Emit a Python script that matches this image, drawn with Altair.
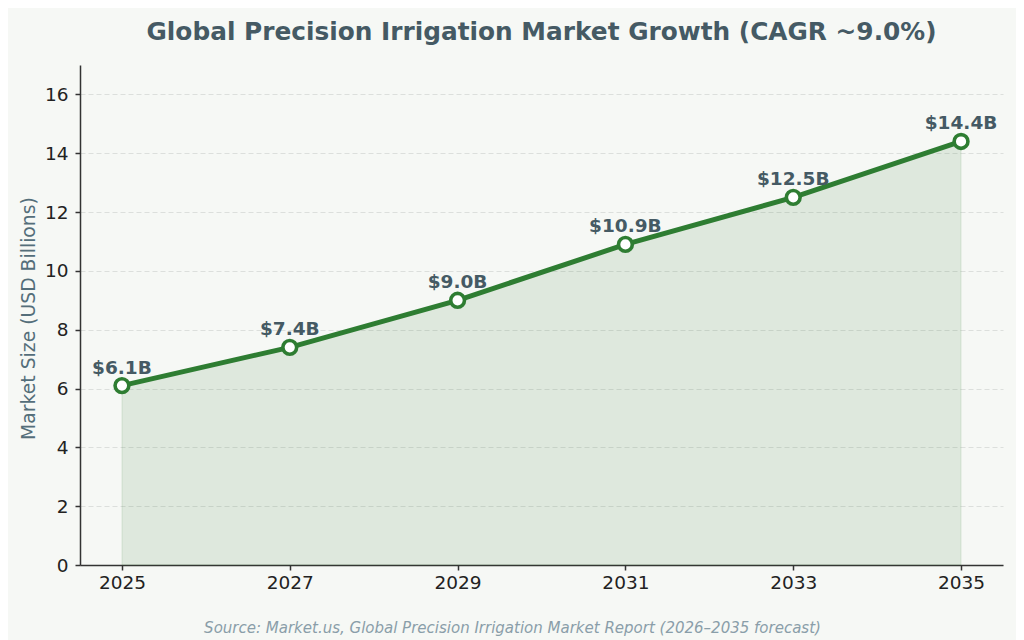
import altair as alt
import pandas as pd

years = [2025, 2027, 2029, 2031, 2033, 2035]
values = [6.1, 7.4, 9.0, 10.9, 12.5, 14.4]
labels = ["$6.1B", "$7.4B", "$9.0B", "$10.9B", "$12.5B", "$14.4B"]
x_ticks = [2025, 2027, 2029, 2031, 2033, 2035]
y_ticks = [0, 2, 4, 6, 8, 10, 12, 14, 16]

df = pd.DataFrame({"year": years, "value": values, "label": labels})

FONT = "DejaVu Sans"
GREEN = "#2e7d32"
SLATE = "#455a64"

x = alt.X(
    "year:Q",
    scale=alt.Scale(domain=[2024.5, 2035.5], nice=False, zero=False),
    axis=alt.Axis(
        values=x_ticks, format="d", grid=False,
        title="Source: Market.us, Global Precision Irrigation Market Report (2026\u20132035 forecast)",
        titleFont=FONT, titleFontSize=15, titleFontStyle="italic", titleFontWeight="normal",
        titleColor="#8a9ea9", titleX=432, titleY=62, titleAlign="center", titleBaseline="middle",
        labelFont=FONT, labelFontSize=18.5, labelColor="#222222", labelPadding=3,
        domainColor="#333333", domainWidth=1.5, tickColor="#333333", tickWidth=1.5, tickSize=5,
    ),
)
y = alt.Y(
    "value:Q",
    scale=alt.Scale(domain=[0, 17], nice=False),
    axis=alt.Axis(
        values=y_ticks, grid=True, gridColor="#dcdfdc", gridDash=[5, 3], gridWidth=1,
        title="Market Size (USD Billions)",
        titleFont=FONT, titleFontSize=18.8, titleFontWeight="normal", titleColor="#546e7a",
        titleX=-52, titleY=253, titleAngle=270, titleAlign="center", titleBaseline="middle",
        labelFont=FONT, labelFontSize=18.5, labelColor="#222222", labelPadding=7,
        domainColor="#333333", domainWidth=1.5, tickColor="#333333", tickWidth=1.5, tickSize=5,
    ),
)

base = alt.Chart(df)
area = base.mark_area(color=GREEN, fillOpacity=0.12, stroke=GREEN, strokeOpacity=0.12, strokeWidth=1).encode(x=x, y=y)
line = base.mark_line(color=GREEN, strokeWidth=5).encode(x=x, y=y)
pts = base.mark_point(filled=True, fill="white", stroke=GREEN, strokeWidth=3.6, size=190, opacity=1).encode(x=x, y=y)
txt = base.mark_text(dy=-18, font=FONT, fontSize=18.5, fontWeight="bold", color=SLATE).encode(x=x, y=y, text="label:N")

chart = alt.layer(area, line, pts, txt).properties(
    width=923, height=500,
    title=alt.TitleParams(
        "Global Precision Irrigation Market Growth (CAGR ~9.0%)",
        font=FONT, fontSize=24.8, fontWeight="bold", color=SLATE, anchor="middle", offset=20,
    ),
    background="#f6f8f5",
    padding={"left": 72, "top": 57, "right": 13, "bottom": 80},
    autosize=alt.AutoSizeParams(type="none"),
).configure_view(stroke=None)

chart.save("out.html", embed_options={"renderer": "svg", "actions": False})
